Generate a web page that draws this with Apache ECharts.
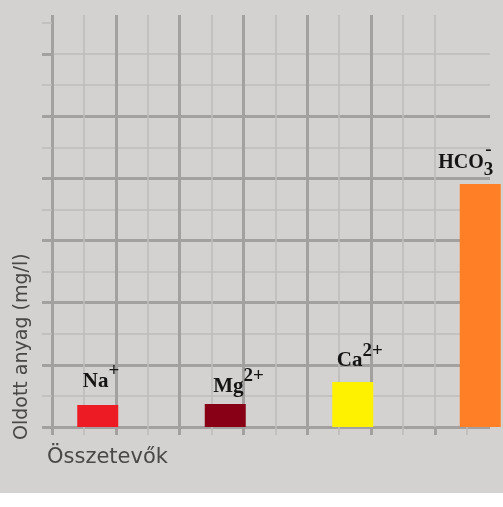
<!DOCTYPE html>
<html><head><meta charset="utf-8">
<script src="https://cdn.jsdelivr.net/npm/echarts@6/dist/echarts.min.js"></script>
<style>html,body{margin:0;padding:0;background:#ffffff;} #c{width:503px;height:493px;}</style>
</head><body><div id="c"></div>
<script>
// ---- data ----
const categories = ['Na+', 'Mg2+', 'Ca2+', 'HCO3-'];
const values = [7.1, 7.4, 14.5, 78.2];
const ionLabels = ['{m|Na}{sup|+}', '{m|Mg}{sup|2+}', '{m|Ca}{sup|2+}', '{gap| }{minus|-}\n{mt|HCO}{sub|3}'];
const barColors = ['#ed1c24', '#880015', '#fff200', '#ff7f27'];
const yMinorTicks = [0, 10, 20, 30, 40, 50, 60, 70, 80, 90, 100, 110, 120, 130];
const yMajorTicks = [0, 20, 40, 60, 80, 100, 120];
const xMinorTicks = [0, 1, 2, 3, 4, 5, 6, 7, 8, 9, 10, 11, 12, 13];
const xMajorTicks = [0, 2, 4, 6, 8, 10, 12];
const xAxisName = 'Összetevők';
const yAxisName = 'Oldott anyag (mg/l)';

// ---- styles ----
const minorColor = '#bfbdbb', majorColor = '#a3a19f';
const minorW = 1.6, majorW = 3;
const yMax = 132.6, xMax = 13.73;
const labelOffsets = [[-15, -4], [-12, 2], [-16, -1.5], [-42, -4]];
const serif = 'Liberation Serif';

const chart = echarts.init(document.getElementById('c'));
function gridXAxis(interval, ticks, color, width, withName) {
  const ax = {
    type: 'value', gridIndex: 0, position: 'bottom', min: 0, max: xMax, interval: interval,
    axisLine: { show: false },
    axisTick: { show: true, inside: false, length: 8, customValues: ticks, lineStyle: { color: color, width: width } },
    axisLabel: { show: false },
    splitLine: { show: true, showMaxLine: false, lineStyle: { color: color, width: width } }
  };
  if (withName) {
    ax.name = xAxisName; ax.nameLocation = 'start'; ax.nameGap = 5;
    ax.nameTextStyle = { fontFamily: 'DejaVu Sans', fontSize: 21, color: '#4a4846', align: 'left', verticalAlign: 'top', padding: [20, 0, 0, 0] };
  }
  return ax;
}
function gridYAxis(interval, ticks, color, width, withName) {
  const ax = {
    type: 'value', gridIndex: 0, position: 'left', min: 0, max: yMax, interval: interval,
    axisLine: { show: false },
    axisTick: { show: true, inside: false, length: 10, customValues: ticks, lineStyle: { color: color, width: width } },
    axisLabel: { show: false },
    splitLine: { show: true, showMaxLine: false, lineStyle: { color: color, width: width } }
  };
  if (withName) {
    ax.name = yAxisName; ax.nameLocation = 'start'; ax.nameGap = 13; ax.nameRotate = 90;
    ax.nameTextStyle = { fontFamily: 'DejaVu Sans', fontSize: 19, color: '#4a4846', align: 'left', verticalAlign: 'bottom', padding: [0, 0, 20, 0] };
  }
  return ax;
}

const option = {
  backgroundColor: '#d4d2d0',
  animation: false,
  grid: [
    { left: 52, top: 15, width: 438, height: 412, outerBoundsMode: 'none' },
    { left: 34, top: 15, width: 510, height: 412, outerBoundsMode: 'none' }
  ],
  xAxis: [
    gridXAxis(1, xMinorTicks, minorColor, minorW, true),
    gridXAxis(2, xMajorTicks, majorColor, majorW, false),
    { type: 'category', gridIndex: 1, data: categories, show: false }
  ],
  yAxis: [
    gridYAxis(10, yMinorTicks, minorColor, minorW, true),
    gridYAxis(20, yMajorTicks, majorColor, majorW, false),
    { type: 'value', gridIndex: 1, min: 0, max: yMax, show: false }
  ],
  series: [{
    type: 'bar', xAxisIndex: 2, yAxisIndex: 2, barWidth: 41,
    data: values.map((v, i) => ({
      value: v,
      itemStyle: { color: barColors[i] },
      label: { offset: labelOffsets[i], formatter: ionLabels[i] }
    })),
    label: {
      show: true, position: 'top', distance: 0, align: 'left', verticalAlign: 'bottom',
      rich: {
        m: { fontFamily: serif, fontWeight: 'bold', fontSize: 21, color: '#141414' },
        mt: { fontFamily: serif, fontWeight: 'bold', fontSize: 20, color: '#141414', verticalAlign: 'top' },
        sup: { fontFamily: serif, fontWeight: 'bold', fontSize: 19, color: '#141414', padding: [0, 0, 20, 0] },
        sub: { fontFamily: serif, fontWeight: 'bold', fontSize: 19, color: '#141414', padding: [8, 0, 0, 0] },
        gap: { fontSize: 10, width: 47, height: 6 },
        minus: { fontFamily: serif, fontWeight: 'bold', fontSize: 19, color: '#141414', height: 6 }
      }
    }
  }]
};
chart.setOption(option);
</script></body></html>
